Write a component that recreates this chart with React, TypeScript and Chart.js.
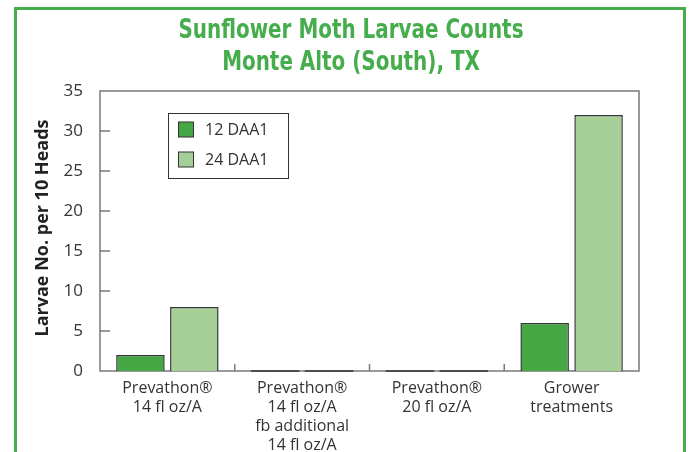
import React, { useEffect, useRef } from "react";
import { Chart, registerables } from "chart.js";

Chart.register(...registerables);

const titleLines = ["Sunflower Moth Larvae Counts", "Monte Alto (South), TX"];
const categories = [
  ["Prevathon®", "14 fl oz/A"],
  ["Prevathon®", "14 fl oz/A", "fb additional", "14 fl oz/A"],
  ["Prevathon®", "20 fl oz/A"],
  ["Grower", "treatments"],
];
const seriesNames = ["12 DAA1", "24 DAA1"];
const series12 = [2, 0, 0, 6];
const series24 = [8, 0, 0, 32];
const yMin = 0;
const yMax = 35;
const yStep = 5;
const yTitle = "Larvae No. per 10 Heads";

const GREEN = "#45ad4b";
const DARK_BAR = "#45a845";
const LIGHT_BAR = "#a5cf96";
const AXIS = "#7a7a7a";
const TEXT = "#333333";
const FONT = '"Open Sans", "Noto Sans", sans-serif';
const TITLE_FONT = '"Liberation Sans Narrow", "DejaVu Sans Condensed", sans-serif';

const framePlugin = {
  id: "frame",
  beforeDatasetsDraw(chart: any) {
    const { ctx, chartArea } = chart;
    const { left, right, top, bottom } = chartArea;
    const y = chart.scales.y;
    const x = chart.scales.x;
    ctx.save();
    ctx.strokeStyle = AXIS;
    ctx.lineWidth = 1.5;
    ctx.strokeRect(left, top, right - left, bottom - top);
    ctx.beginPath();
    for (let v = yMin + yStep; v < yMax; v += yStep) {
      const py = y.getPixelForValue(v);
      ctx.moveTo(left, py);
      ctx.lineTo(left + 10, py);
    }
    for (let i = 1; i < categories.length; i++) {
      const px = (x.getPixelForValue(i - 1) + x.getPixelForValue(i)) / 2;
      ctx.moveTo(px, bottom);
      ctx.lineTo(px, bottom - 7);
    }
    ctx.stroke();
    ctx.restore();
  },
  afterDatasetsDraw(chart: any) {
    const { ctx, chartArea } = chart;
    ctx.save();
    ctx.strokeStyle = "#333";
    ctx.lineWidth = 1.5;
    chart.data.datasets.forEach((ds: any, di: number) => {
      const meta = chart.getDatasetMeta(di);
      meta.data.forEach((el: any, i: number) => {
        if (ds.data[i] === 0) {
          const w = el.width;
          ctx.beginPath();
          ctx.moveTo(el.x - w / 2, el.base);
          ctx.lineTo(el.x + w / 2, el.base);
          ctx.stroke();
        }
      });
    });
    // legend
    ctx.fillStyle = "#fff";
    ctx.fillRect(168, 113, 120, 65);
    ctx.strokeStyle = "#333";
    ctx.lineWidth = 1;
    ctx.strokeRect(168.5, 113.5, 120, 65);
    chart.data.datasets.forEach((ds: any, di: number) => {
      const cy = 129.5 + di * 30;
      ctx.fillStyle = ds.backgroundColor;
      ctx.fillRect(178, cy - 7.5, 15, 15);
      ctx.strokeRect(178.5, cy - 7.5, 15, 15);
      ctx.fillStyle = TEXT;
      ctx.font = `16px ${FONT}`;
      ctx.textAlign = "left";
      ctx.textBaseline = "middle";
      ctx.fillText(ds.label, 205, cy + 1);
    });
    // title, compressed horizontally like a condensed face
    ctx.fillStyle = GREEN;
    ctx.font = `bold 27px ${TITLE_FONT}`;
    ctx.textAlign = "center";
    ctx.textBaseline = "middle";
    const w0 = ctx.measureText(titleLines[0]).width;
    const sx = Math.min(1, 345 / w0);
    titleLines.forEach((t, i) => {
      ctx.save();
      ctx.translate(351, 31 + i * 32);
      ctx.scale(sx, 1);
      ctx.fillText(t, 0, 0);
      ctx.restore();
    });
    // y title
    ctx.save();
    ctx.translate(43, (chartArea.top + chartArea.bottom) / 2 - 3);
    ctx.rotate(-Math.PI / 2);
    ctx.fillStyle = "#222";
    ctx.font = `bold 18px ${FONT}`;
    ctx.fillText(yTitle, 0, 0);
    ctx.restore();
    ctx.restore();
  },
};

export default function App() {
  const ref = useRef<HTMLCanvasElement | null>(null);
  useEffect(() => {
    if (!ref.current) return;
    const chart = new Chart(ref.current, {
      type: "bar",
      data: {
        labels: categories,
        datasets: [
          {
            label: seriesNames[0],
            data: series12,
            backgroundColor: DARK_BAR,
            borderColor: "#333",
            borderWidth: 1.5,
            borderSkipped: "bottom",
          },
          {
            label: seriesNames[1],
            data: series24,
            backgroundColor: LIGHT_BAR,
            borderColor: "#333",
            borderWidth: 1.5,
            borderSkipped: "bottom",
          },
        ],
      },
      options: {
        responsive: false,
        animation: false,
        datasets: { bar: { categoryPercentage: 0.8, barPercentage: 0.9 } },
        layout: { padding: { left: 0, right: 50, top: 91, bottom: 0 } },
        plugins: {
          legend: { display: false },
          title: { display: false },
          tooltip: { enabled: false },
        },
        scales: {
          x: {
            grid: { display: false },
            border: { display: false },
            ticks: {
              color: TEXT,
              font: { family: FONT, size: 16, lineHeight: 1.18 },
              padding: 0,
              maxRotation: 0,
              autoSkip: false,
            },
            afterFit: (s: any) => {
              s.height = 81;
            },
          },
          y: {
            min: yMin,
            max: yMax,
            grid: { display: false },
            border: { display: false },
            ticks: {
              stepSize: yStep,
              color: TEXT,
              font: { family: FONT, size: 17 },
              padding: 9,
            },
            afterFit: (s: any) => {
              s.width = 100;
            },
          },
        },
      },
      plugins: [framePlugin],
    });
    return () => chart.destroy();
  }, []);
  return (
    <div
      style={{
        position: "fixed",
        left: 0,
        top: 0,
        width: 689,
        height: 452,
        overflow: "hidden",
        background: "#fff",
      }}
    >
      <canvas ref={ref} width={689} height={452} style={{ position: "absolute", left: 0, top: 0 }} />
      <div
        style={{
          position: "absolute",
          left: 14,
          top: 7,
          width: 672,
          height: 480,
          border: `3px solid ${GREEN}`,
          boxSizing: "border-box",
          pointerEvents: "none",
        }}
      />
    </div>
  );
}
